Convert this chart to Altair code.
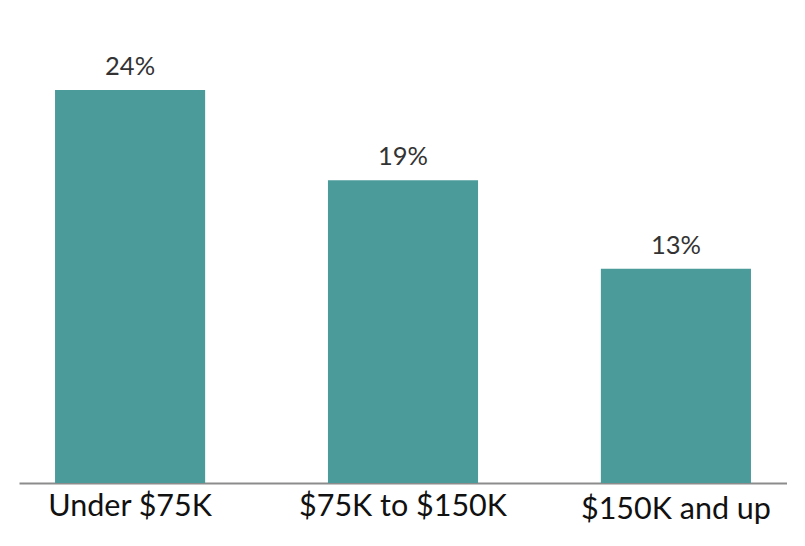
import altair as alt
import pandas as pd

# Share of households by income group
groups = ["Under $75K", "$75K to $150K", "$150K and up"]
shares = [24.4, 18.8, 13.3]
labels = ["24%", "19%", "13%"]

df = pd.DataFrame({"group": groups, "share": shares, "label": labels})

base = alt.Chart(df).encode(
    x=alt.X(
        "group:N",
        sort=groups,
        title=None,
        scale=alt.Scale(paddingInner=0.45, paddingOuter=0.132),
        axis=alt.Axis(
            labelAngle=0,
            labelFontSize=30.5,
            labelColor="#111",
            labelFont="Lato",
            # last label sits a touch lower in the original
            labelPadding={
                "condition": {"test": "datum.value == '$150K and up'", "value": 11},
                "value": 8,
            },
            labelLimit=0,
            ticks=False,
            domainColor="#8c8c8c",
            domainWidth=2,
            grid=False,
        ),
    ),
    y=alt.Y("share:Q", title=None, axis=None, scale=alt.Scale(domain=[0, 28.75])),
)

bars = base.mark_bar(color="#4b9b9b")

text = base.mark_text(
    baseline="alphabetic", dy=-15, fontSize=25.5, font="Lato", color="#333"
).encode(text="label:N")

chart = (bars + text).properties(
    width=768,
    height=463,
    padding={"left": 11, "top": 12, "right": 0, "bottom": 0},
    background="white",
).configure_view(strokeWidth=0)

chart.save("out.html", embed_options={"renderer": "svg", "actions": False})
